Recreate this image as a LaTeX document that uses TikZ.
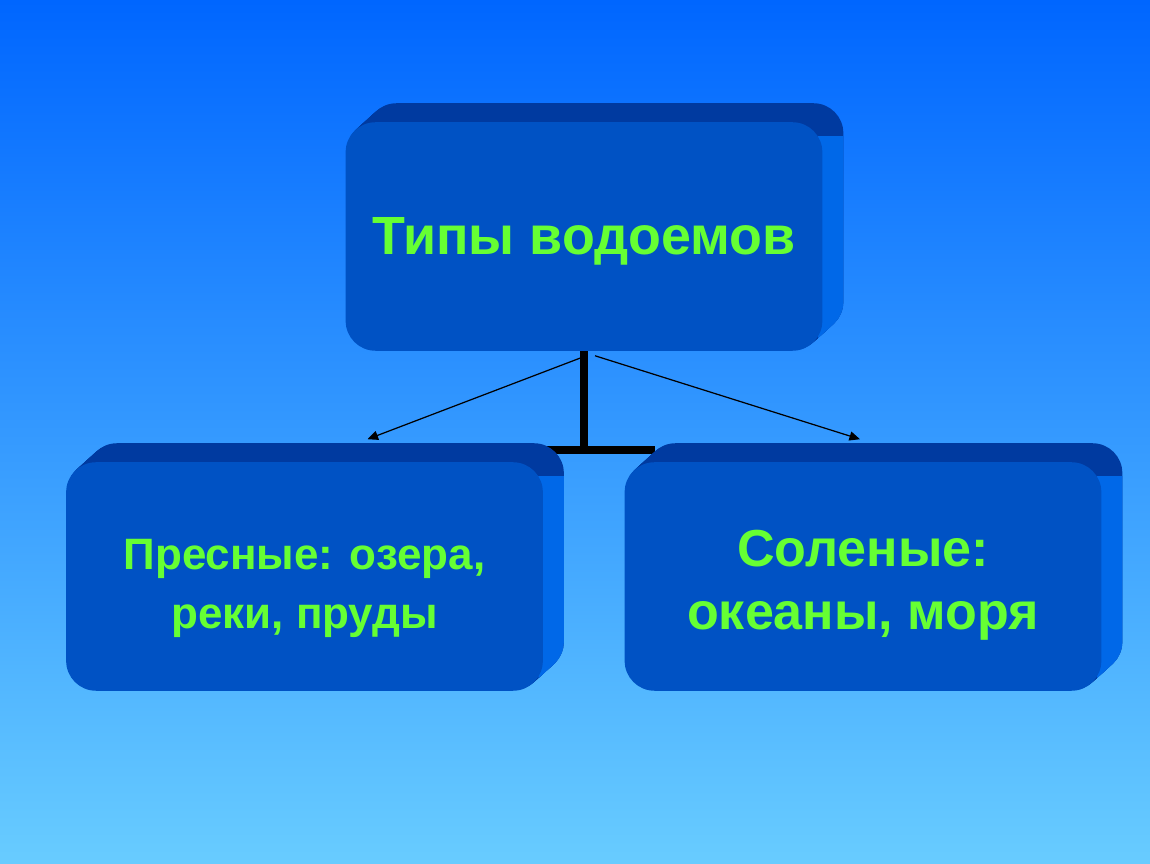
\documentclass[tikz,border=0pt]{standalone}
\usepackage{fontspec}
\setmainfont{Liberation Sans}
\usetikzlibrary{arrows.meta}

\definecolor{skytop}{RGB}{0,102,255}
\definecolor{skybot}{RGB}{104,204,255}
\definecolor{boxfront}{RGB}{0,82,196}
\definecolor{boxtop}{RGB}{0,58,160}
\definecolor{boxside}{RGB}{0,104,232}
\definecolor{txtgreen}{RGB}{102,255,51}

\tikzset{
  front/.style={minimum width=4.75cm, minimum height=2.27cm, inner sep=0pt},
  layer/.style={rounded corners=8.5pt},
  label/.style={align=center, text=txtgreen, inner sep=0pt},
  stem/.style={line width=2pt, black},
  thinarrow/.style={-{Triangle[length=3pt,width=2.6pt]}, line width=0.35pt, black}
}

% relief of a box: stacked copies behind the front face
\newcommand{\boxrelief}[1]{%
  \foreach \k in {1,...,21}
    \fill[layer, boxtop] ([shift={(\k,-\k*19/21)}]#1.south west) rectangle ([shift={(\k,-\k*19/21)}]#1.north east);
  \begin{scope}
    \clip ([shift={(-4,14)}]#1.north east) rectangle ([shift={(30,0)}]#1.south east);
    \foreach \k in {1,...,21}
      \fill[layer, boxside] ([shift={(\k,-\k*19/21)}]#1.south west) rectangle ([shift={(\k,-\k*19/21)}]#1.north east);
  \end{scope}
  \fill[layer, boxfront] (#1.south west) rectangle (#1.north east);
}

\begin{document}
\begin{tikzpicture}[x=0.01cm, y=-0.01cm]

  % fond
  \shade[top color=skytop, bottom color=skybot] (0,0) rectangle (1150,864);

  % cases
  \node[front] (types) at (584,236.5) {};
  \node[front] (fresh) at (304.5,576.5) {};
  \node[front] (salt) at (863,576.5) {};
  \coordinate (fork) at (types.south |- 0,450);

  % trait en T
  \draw[stem] (types.south) -- (fork);
  \draw[stem] (fresh.east |- fork) -- ([xshift=0.3cm]salt.west |- fork);

  % cases en relief
  \boxrelief{types}
  \boxrelief{fresh}
  \boxrelief{salt}

  % textes
  \node[label, font=\fontsize{15.3pt}{18pt}\selectfont\bfseries] (types-txt) at ([yshift=-0.05cm]types) {Типы водоемов};
  \node[label, font=\fontsize{12.5pt}{17pt}\selectfont\bfseries] (fresh-txt) at ([yshift=-0.12cm]fresh) {Пресные: озера,\\ реки, пруды};
  \node[label, font=\fontsize{14.8pt}{18pt}\selectfont\bfseries] (salt-txt) at ([yshift=-0.09cm]salt) {Соленые:\\ океаны, моря};

  % flèches fines
  \draw[thinarrow] ([shift={(-3,7)}]types.south) -- ([shift={(63,-23)}]fresh.north);
  \draw[thinarrow] ([shift={(11,5)}]types.south) -- ([shift={(-3,-23)}]salt.north);

\end{tikzpicture}
\end{document}
